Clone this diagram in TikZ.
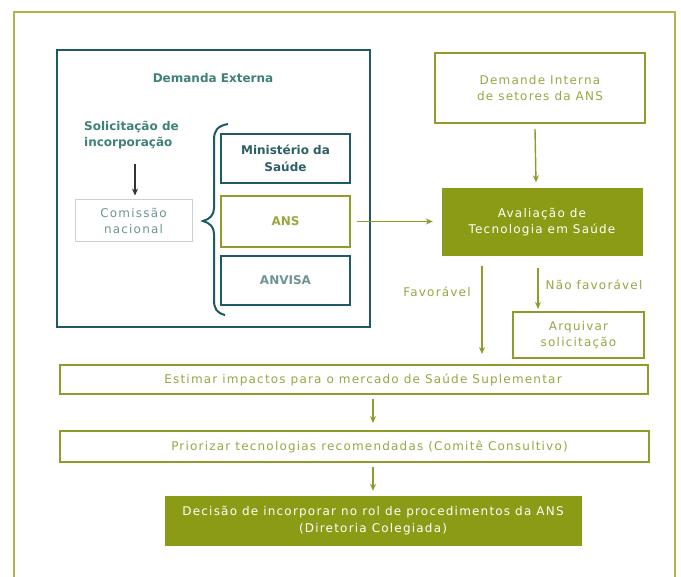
\documentclass[tikz,border=0pt]{standalone}
\usepackage{fontspec}
\setmainfont{DejaVu Sans}[LetterSpace=10, BoldFeatures={LetterSpace=0}]
\usetikzlibrary{arrows.meta}
\definecolor{olive}{HTML}{8C9B16}
\definecolor{olivebd}{HTML}{8F9C2C}
\definecolor{olivetx}{HTML}{9BA544}
\definecolor{framec}{HTML}{AEB54A}
\definecolor{teal}{HTML}{1E5A63}
\definecolor{tealtx}{HTML}{3F8079}
\definecolor{tealdk}{HTML}{2E5E66}
\definecolor{graytx}{HTML}{6F9494}
\definecolor{graybd}{HTML}{C9D2D2}
\tikzset{
  every node/.style={font=\fontsize{12}{16.5}\selectfont, align=center, inner sep=0pt},
  olivebox/.style={draw=olivebd, line width=2pt, fill=white, text=olivetx},
  tealbox/.style={draw=teal, line width=2pt, fill=white, text=tealdk, font=\fontsize{12}{16.5}\selectfont\bfseries},
  fillbox/.style={draw=olive, fill=olive, text=white},
  arr/.style={draw=olivebd, line width=1.4pt, -{Stealth[length=7pt,width=6pt]}},
  arrd/.style={draw=black!80, line width=1.2pt, -{Stealth[length=7pt,width=6pt]}},
}
\begin{document}
\begin{tikzpicture}[x=1pt,y=-1pt]
\useasboundingbox (0,0) rectangle (681,577);
\fill[white] (0,0) rectangle (681,577);
\begin{scope}
\clip (0,0) rectangle (681,577);
\draw[framec, line width=2.5pt] (14,12) rectangle (675,600);
\end{scope}
% Demanda Externa
\node[draw=teal, line width=2.5pt, minimum width=313pt, minimum height=277pt] (ext) at (213.5,188.5) {};
\node[text=tealtx, font=\fontsize{12}{16}\selectfont\bfseries] (extt) at (213,78) {Demanda Externa};
\node[text=tealtx, align=left, anchor=west, font=\fontsize{12}{16}\selectfont\bfseries] (sol) at (84,135) {Solicitação de\\incorporação};
\node[draw=graybd, line width=1pt, minimum width=117pt, minimum height=42pt, text=graytx] (com) at (133.5,221) {Comissão\\nacional};
\draw[arrd] (135,164) -- ([yshift=4pt]com.north -| 135,0);
% brace
\draw[teal, line width=2pt] (228,124) .. controls (217,126) and (214,131) .. (214,140) -- (214,208) .. controls (214,215) and (210,219) .. (203,221) .. controls (210,223) and (214,227) .. (214,234) -- (214,300) .. controls (214,309) and (217,313) .. (225,315);
\node[tealbox, minimum width=129pt, minimum height=49pt] (min) at (285.5,158.5) {Ministério da\\Saúde};
\node[olivebox, minimum width=129pt, minimum height=51pt, font=\fontsize{12}{16}\selectfont\bfseries] (ans) at (285.5,221.5) {ANS};
\node[tealbox, minimum width=129pt, minimum height=49pt, text=graytx] (anv) at (285.5,280.5) {ANVISA};
% right column
\node[olivebox, minimum width=210pt, minimum height=70pt] (dint) at (540,88) {Demande Interna\\de setores da ANS};
\node[fillbox, minimum width=200pt, minimum height=67pt] (ats) at (542,222) {Avaliação de\\Tecnologia em Saúde};
\node[olivebox, minimum width=131pt, minimum height=46pt] (arq) at (578.5,335) {Arquivar\\solicitação};
\draw[arr] ([xshift=6pt]ans.east) -- ([xshift=-9pt]ats.west |- ans.east);
\draw[arr] ([xshift=-5pt,yshift=-5pt]dint.south) -- ([xshift=-6pt,yshift=6pt]ats.north);
% bottom
\node[olivebox, minimum width=588pt, minimum height=29pt] (est) at (354,379.5) {\hspace*{18pt}Estimar impactos para o mercado de Saúde Suplementar};
\node[olivebox, minimum width=589pt, minimum height=31pt] (pri) at (354.5,446.5) {\hspace*{30pt}Priorizar tecnologias recomendadas (Comitê Consultivo)};
\node[fillbox, minimum width=416pt, minimum height=49pt, font=\fontsize{12}{17}\selectfont] (dec) at (373,520.5) {Decisão de incorporar no rol de procedimentos da ANS\\(Diretoria Colegiada)};
\coordinate (fav) at (482,0);
\coordinate (nfav) at (538,0);
\draw[arr] ([yshift=-10pt]ats.south -| fav) -- ([yshift=10pt]est.north -| fav);
\node[text=olivetx] (favl) at (437,292) {Favorável};
\draw[arr] ([yshift=-12pt]ats.south -| nfav) -- ([yshift=2pt]arq.north -| nfav);
\node[text=olivetx] (nfavl) at (594,285) {Não favorável};
\draw[arr] ([yshift=-4pt]est.south -| dec) -- ([yshift=7pt]pri.north -| dec);
\draw[arr] ([yshift=-4pt]pri.south -| dec) -- ([yshift=5pt]dec.north);
\end{tikzpicture}
\end{document}
